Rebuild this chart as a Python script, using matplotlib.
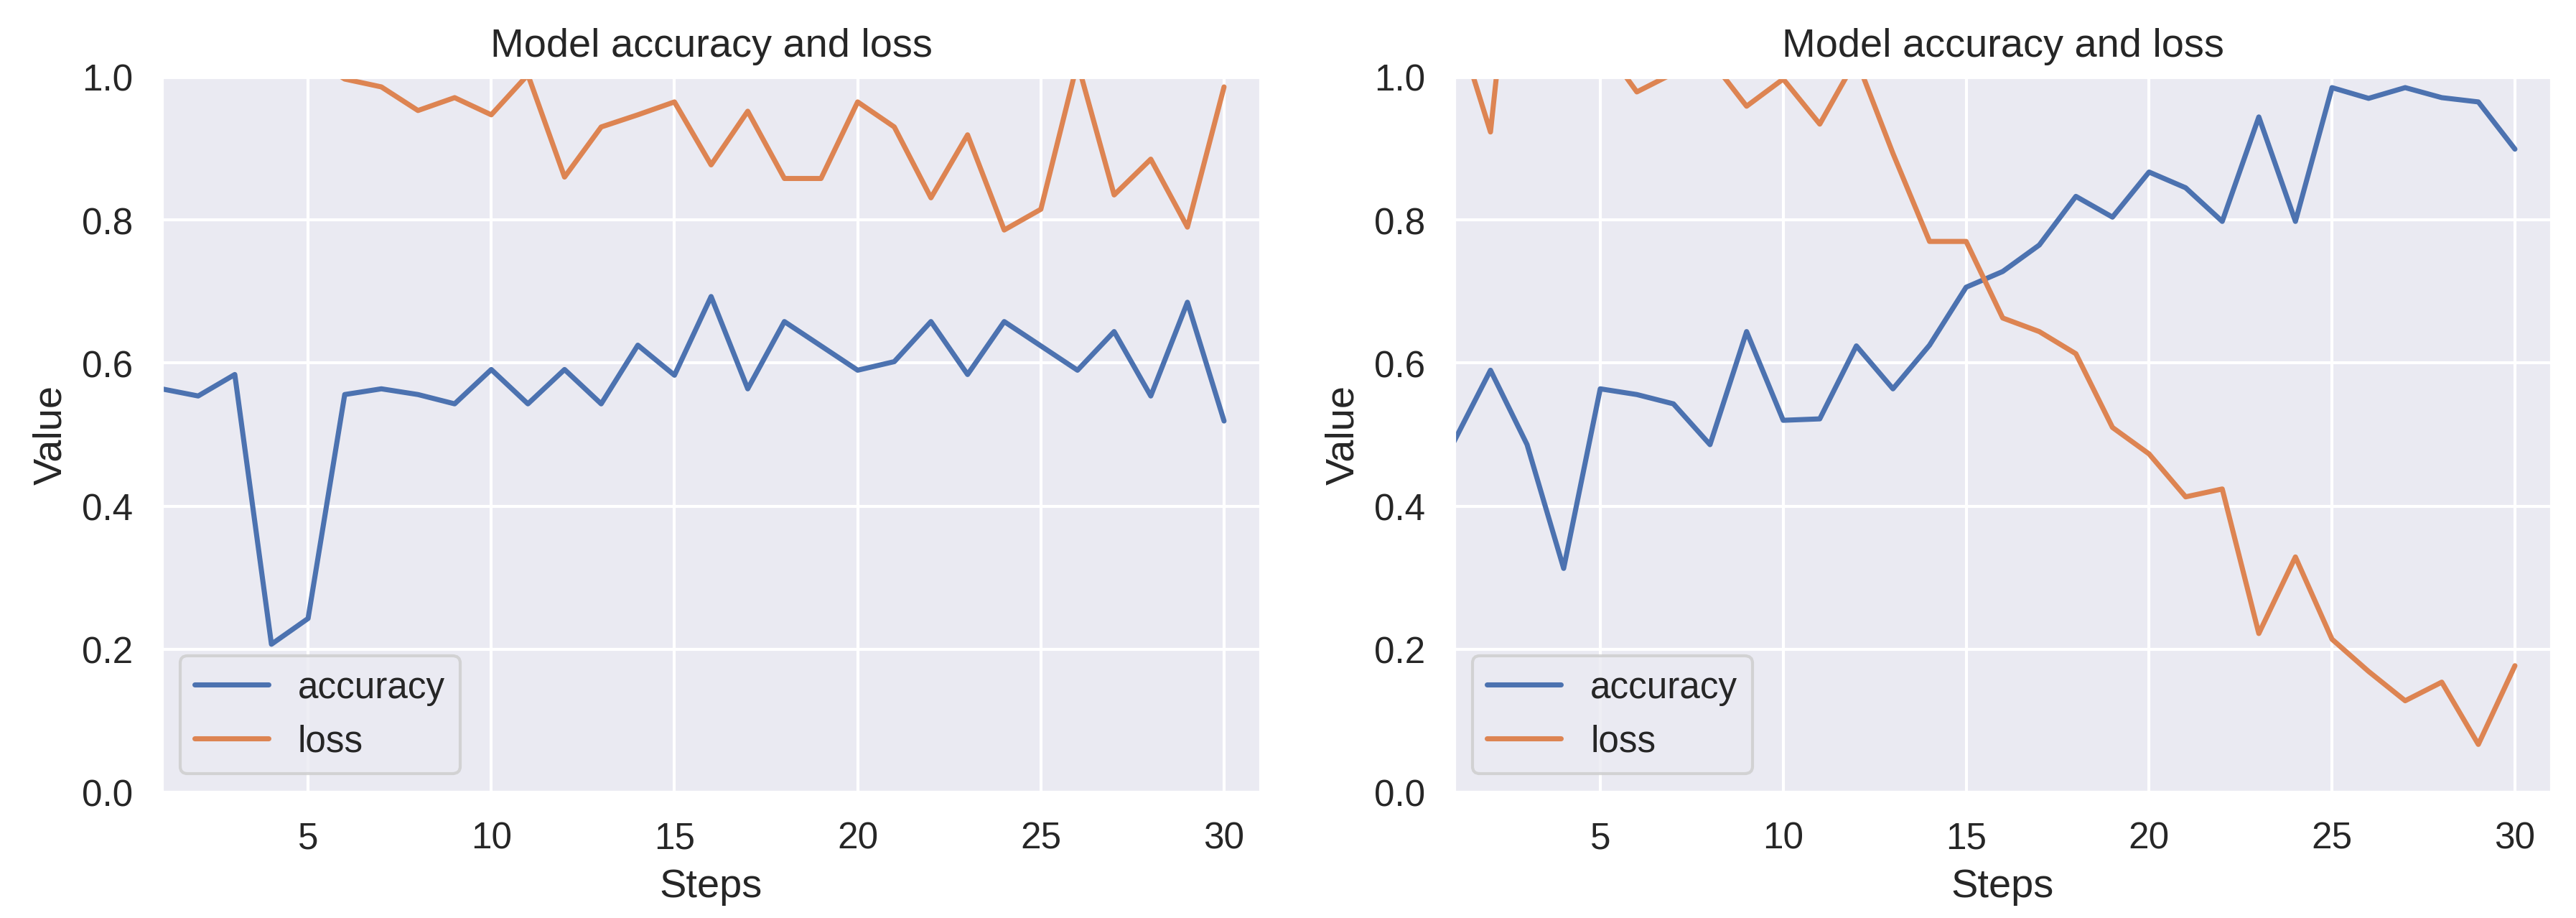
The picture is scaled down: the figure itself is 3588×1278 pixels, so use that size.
import matplotlib
matplotlib.use("Agg")
import matplotlib.pyplot as plt
import seaborn as sns

sns.set_theme(style="darkgrid", font_scale=1.12)
plt.rcParams['font.family'] = ['Liberation Sans', 'DejaVu Sans']

steps = list(range(1, 31))

# left run
acc_left = [0.564, 0.554, 0.584, 0.207, 0.243, 0.556, 0.564, 0.556, 0.543, 0.591,
            0.543, 0.591, 0.543, 0.625, 0.583, 0.693, 0.564, 0.658, 0.624, 0.590,
            0.602, 0.658, 0.584, 0.658, 0.624, 0.590, 0.644, 0.554, 0.685, 0.519]
loss_left = [1.20, 1.10, 1.08, 1.15, 1.03, 0.997, 0.986, 0.953, 0.971, 0.947,
             1.003, 0.860, 0.930, 0.947, 0.965, 0.877, 0.952, 0.858, 0.858, 0.965,
             0.930, 0.831, 0.919, 0.786, 0.815, 1.02, 0.835, 0.885, 0.790, 0.986]

# right run
acc_right = [0.490, 0.590, 0.486, 0.313, 0.564, 0.556, 0.543, 0.486, 0.644, 0.520,
             0.522, 0.624, 0.564, 0.625, 0.706, 0.728, 0.765, 0.833, 0.804, 0.867,
             0.845, 0.798, 0.944, 0.798, 0.985, 0.970, 0.985, 0.971, 0.965, 0.899]
loss_right = [1.087, 0.923, 1.40, 1.30, 1.05, 0.979, 1.005, 1.025, 0.959, 0.997,
              0.934, 1.025, 0.893, 0.770, 0.770, 0.663, 0.644, 0.613, 0.510, 0.473,
              0.413, 0.424, 0.222, 0.329, 0.214, 0.169, 0.128, 0.154, 0.067, 0.177]

fig = plt.figure(figsize=(11.96, 4.263), dpi=300)
ax1 = fig.add_axes([0.0627, 0.1368, 0.4267, 0.7788])
ax2 = fig.add_axes([0.5644, 0.1368, 0.4261, 0.7788])

for ax, acc, loss in [(ax1, acc_left, loss_left), (ax2, acc_right, loss_right)]:
    ax.plot(steps, acc, label='accuracy', lw=1.7)
    ax.plot(steps, loss, label='loss', lw=1.7)
    ax.set_title('Model accuracy and loss', pad=7)
    ax.set_xlabel('Steps')
    ax.set_ylabel('Value')
    ax.set_xlim(1, 31)
    ax.set_ylim(0, 1)
    ax.set_xticks([5, 10, 15, 20, 25, 30])
    ax.set_yticks([0.0, 0.2, 0.4, 0.6, 0.8, 1.0])
    ax.legend(loc='lower left')

fig.savefig('out.png', dpi=300)
